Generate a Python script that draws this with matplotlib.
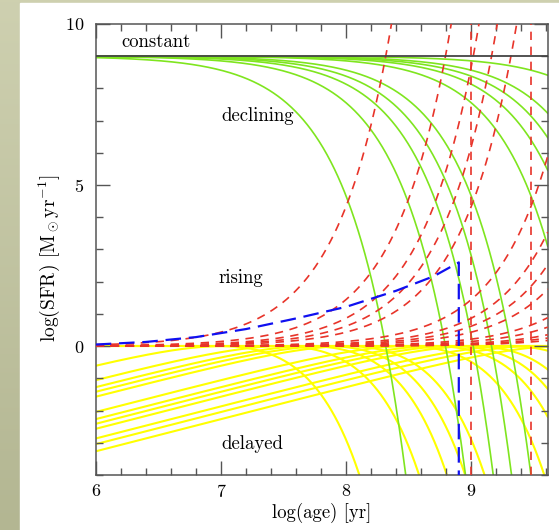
import numpy as np
import matplotlib
matplotlib.use("Agg")
import matplotlib.pyplot as plt
from matplotlib.patches import Rectangle

plt.rcParams['font.family'] = 'cmr10'
plt.rcParams['mathtext.fontset'] = 'cm'
plt.rcParams['axes.formatter.use_mathtext'] = True

LN10 = np.log(10)

# e-folding times [yr] for each family of star-formation histories
tau_declining = [1e7, 3e7, 5e7, 7e7, 1e8, 3e8, 5e8, 7e8, 1e9, 3e9]
tau_rising = [1e7, 3e7, 5e7, 7e7, 1e8, 3e8, 5e8, 7e8, 1e9, 2e9, 3e9, 5e9, 7e9, 1e10]
tau_delayed = [1e7, 3e7, 5e7, 7e7, 1e8, 3e8, 5e8, 7e8, 1e9, 2e9, 3e9, 5e9]

log_sfr_constant = 9.0      # constant SFR level
log_sfr_start = 9.0         # declining models start here
cut_logage = [9.0, 9.48]    # truncation ages (red verticals)

# truncated rising history (blue)
blue_logage = [6.0, 6.4, 6.8, 7.2, 7.6, 8.0, 8.4, 8.7, 8.9, 8.9]
blue_logsfr = [0.05, 0.13, 0.28, 0.53, 0.86, 1.22, 1.72, 2.17, 2.6, -4.0]

logage = np.linspace(6.0, 9.61, 800)
age = 10 ** logage

fig = plt.figure(figsize=(5.59, 5.30), dpi=100)

# slide-style backdrop
bg = fig.add_axes([0, 0, 1, 1])
grad = np.linspace(0, 1, 256).reshape(-1, 1)
top_c = np.array([0.808, 0.816, 0.690])
bot_c = np.array([0.702, 0.714, 0.573])
img = top_c + (bot_c - top_c) * grad[:, :, None]
bg.imshow(img, aspect='auto', extent=[0, 1, 0, 1], origin='upper')
bg.add_patch(Rectangle((20 / 559, 0), 1, (530 - 3) / 530, color='white', zorder=2))
bg.set_xlim(0, 1)
bg.set_ylim(0, 1)
bg.axis('off')

ax = fig.add_axes([95.7 / 559, 55 / 530, 452 / 559, 451 / 530])

# delayed: SFR ~ (t/tau) exp(1 - t/tau)
ax.axhline(0.0, color='#ffff00', lw=1.6, zorder=1)
for tau in tau_delayed:
    u = age / tau
    ax.plot(logage, np.log10(u) + (1 - u) / LN10, color='#ffff00', lw=1.5, zorder=1)

# declining: SFR ~ exp(-t/tau)
for tau in tau_declining:
    ax.plot(logage, log_sfr_start - age / (tau * LN10), color='#7fe51f', lw=1.2, zorder=2)

# rising: SFR ~ exp(t/tau)
for tau in tau_rising:
    ax.plot(logage, age / (tau * LN10), color='#e8342a', lw=1.2, ls=(0, (5, 4)), zorder=3)
for x in cut_logage:
    ax.plot([x, x], [-4, 10], color='#e8342a', lw=1.2, ls=(0, (5, 4)), zorder=3)

ax.plot(blue_logage, blue_logsfr, color='#1010f0', lw=1.6, ls=(0, (7, 3.5)), zorder=4)

ax.axhline(log_sfr_constant, color='#444444', lw=1.3, zorder=5)

ax.text(6.48, 9.44, 'constant', ha='center', va='center', fontsize=13.5)
ax.text(7.296, 7.14, 'declining', ha='center', va='center', fontsize=13.5)
ax.text(7.16, 2.11, 'rising', ha='center', va='center', fontsize=13.5)
ax.text(7.255, -3.04, 'delayed', ha='center', va='center', fontsize=13.5)

ax.set_xlim(6.0, 9.61)
ax.set_ylim(-4, 10)
ax.set_xticks([6, 7, 8, 9])
ax.set_yticks([0, 5, 10])
ax.set_xticks(np.arange(6.0, 9.61, 0.2), minor=True)
ax.set_yticks(np.arange(-4, 11, 1), minor=True)
ax.tick_params(which='both', direction='in', top=True, right=True,
               color='#555555', labelsize=13)
ax.tick_params(axis='x', pad=6)
ax.tick_params(axis='y', pad=8)
ax.tick_params(which='major', length=10, width=1)
ax.tick_params(which='minor', length=5, width=1)
for s in ax.spines.values():
    s.set_color('#555555')
    s.set_linewidth(1.1)

ax.set_xlabel('log(age) [yr]', fontsize=13.5)
ax.set_ylabel(r'log(SFR) [M$_\odot$yr$^{-1}$]', fontsize=14)
ax.xaxis.set_label_coords(0.5, -0.062)
ax.yaxis.set_label_coords(-0.075, 0.48)

fig.savefig('out.png', dpi=100)
